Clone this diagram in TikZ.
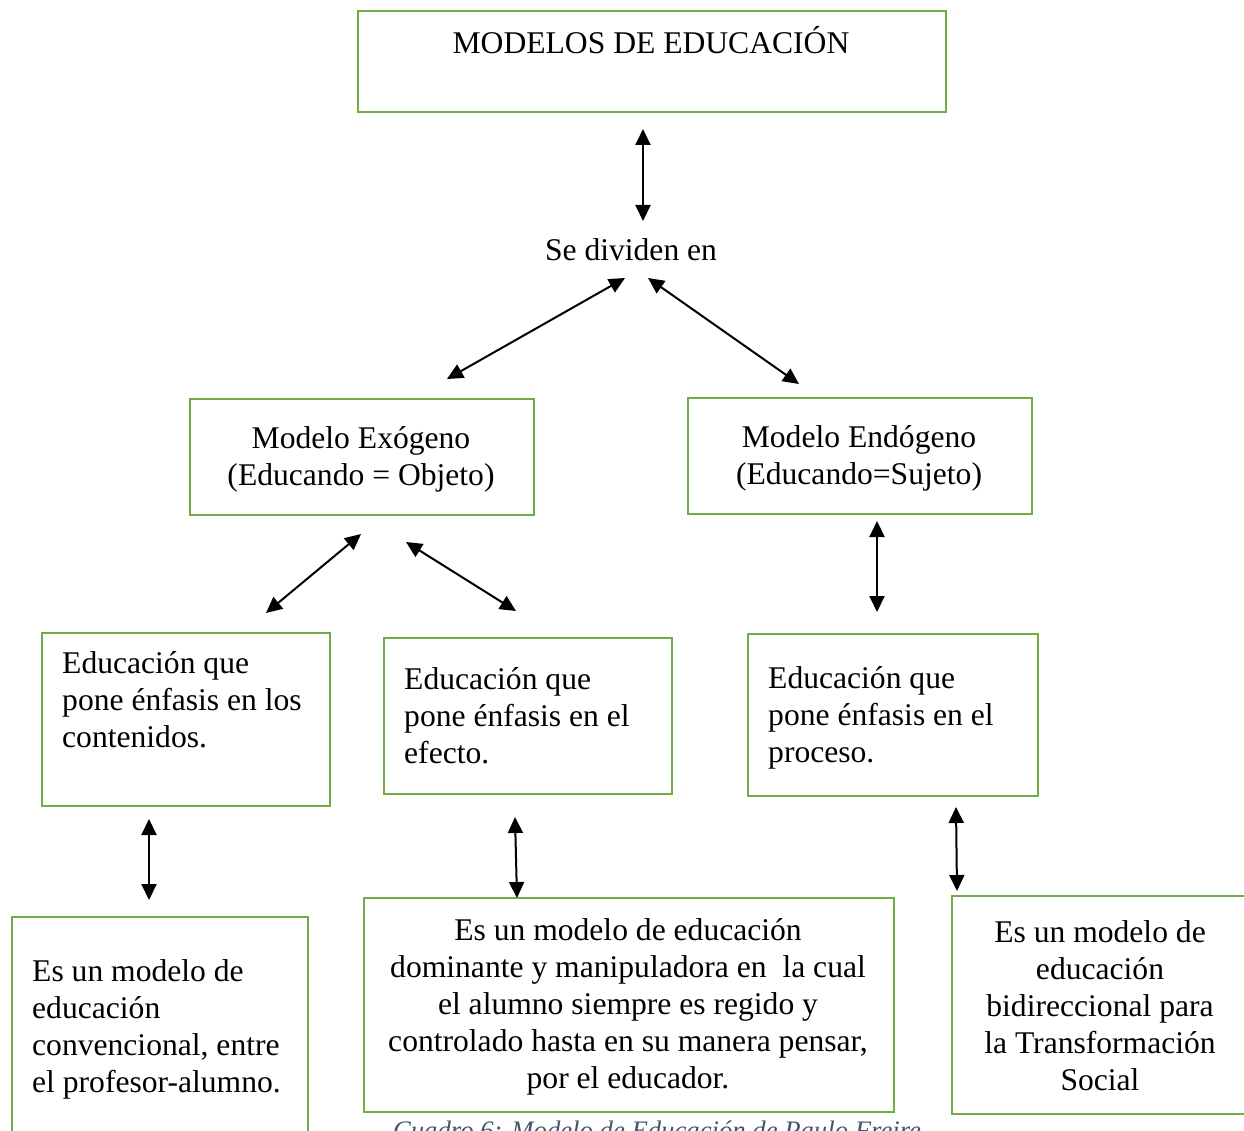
\documentclass[tikz,border=0pt]{standalone}
\usepackage{fontspec}
\setmainfont{Liberation Serif}
\usetikzlibrary{arrows.meta}
\definecolor{boxgreen}{HTML}{70AD47}
\definecolor{capblue}{HTML}{44546A}
\tikzset{
  boxframe/.style={draw=boxgreen, line width=2.4pt, rectangle, inner sep=0pt, anchor=north west},
  txt/.style={inner sep=0pt, anchor=north, font=\fontsize{31.6}{37}\selectfont},
  txtl/.style={txt, anchor=north west, align=left},
  txtc/.style={txt, align=center},
  dbl/.style={line width=2pt, {Triangle[length=16pt,width=15pt]}-{Triangle[length=16pt,width=15pt]}}
}
\begin{document}
\begin{tikzpicture}[x=1pt,y=-1pt]
\useasboundingbox (0,0) rectangle (1244,1131);
\clip (0,0) rectangle (1244,1131);
% boxes
\node[boxframe, minimum width=588pt, minimum height=101pt] (btop) at (357,10) {};
\node[boxframe, minimum width=344pt, minimum height=116pt] (bexo) at (189,398) {};
\node[boxframe, minimum width=344pt, minimum height=116pt] (bendo) at (687,397) {};
\node[boxframe, minimum width=288pt, minimum height=173pt] (bcont) at (41,632) {};
\node[boxframe, minimum width=288pt, minimum height=156pt] (befec) at (383,637) {};
\node[boxframe, minimum width=290pt, minimum height=162pt] (bproc) at (747,633) {};
\node[boxframe, minimum width=296pt, minimum height=244pt] (bconv) at (11,916) {};
\node[boxframe, minimum width=530pt, minimum height=214pt] (bdomi) at (363,897) {};
\node[boxframe, minimum width=309pt, minimum height=218pt] (bbidi) at (951,895) {};
% texts
\node[txtc] (ttop) at (651,26) {\strut MODELOS DE EDUCACIÓN};
\node[txtc] (div) at (631,234) {\strut Se dividen en};
\node[txtc] (exo) at (361,422) {\strut Modelo Exógeno\\(Educando = Objeto)};
\node[txtc] (endo) at (859,421) {\strut Modelo Endógeno\\(Educando=Sujeto)};
\node[txtl] (cont) at (62,647) {\strut Educación que\\pone énfasis en los\\contenidos.};
\node[txtl] (efec) at (404,663) {\strut Educación que\\pone énfasis en el\\efecto.};
\node[txtl] (proc) at (768,662) {\strut Educación que\\pone énfasis en el\\proceso.};
\node[txtl] (conv) at (32,955) {\strut Es un modelo de\\educación\\convencional, entre\\el profesor-alumno.};
\node[txtc] (domi) at (628,914) {\strut Es un modelo de educación\\dominante y manipuladora en\ \ la cual\\el alumno siempre es regido y\\controlado hasta en su manera pensar,\\por el educador.};
\node[txtc] (bidi) at (1100,916) {\strut Es un modelo de\\educación\\bidireccional para\\la Transformación\\Social};
\node[inner sep=0, anchor=base, text=capblue, font=\fontsize{26.7}{32}\selectfont\itshape] (cap) at (657,1139) {Cuadro 6: Modelo de Educación de Paulo Freire};
% arrow endpoints
\coordinate (a1) at (643,129); \coordinate (a2) at (643,221);
\coordinate (b1) at (625,278); \coordinate (b2) at (447,379);
\coordinate (c1) at (648,278); \coordinate (c2) at (799,384);
\coordinate (d1) at (361,534); \coordinate (d2) at (266,613);
\coordinate (e1) at (406,542); \coordinate (e2) at (516,611);
\coordinate (f1) at (877,521); \coordinate (f2) at (877,612);
\coordinate (g1) at (149,819); \coordinate (g2) at (149,900);
\coordinate (h1) at (515,817); \coordinate (h2) at (517,898);
\coordinate (i1) at (956,807); \coordinate (i2) at (957,891);
\draw[dbl] (a1) -- (a2);
\draw[dbl] (b1) -- (b2);
\draw[dbl] (c1) -- (c2);
\draw[dbl] (d1) -- (d2);
\draw[dbl] (e1) -- (e2);
\draw[dbl] (f1) -- (f2);
\draw[dbl] (g1) -- (g2);
\draw[dbl] (h1) -- (h2);
\draw[dbl] (i1) -- (i2);
\end{tikzpicture}
\end{document}
